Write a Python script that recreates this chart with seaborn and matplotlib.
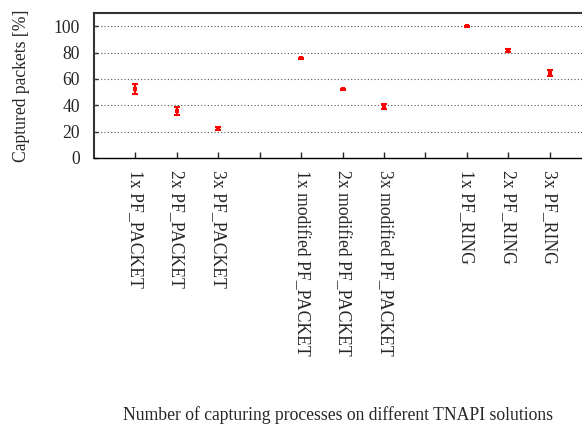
import matplotlib
matplotlib.use("Agg")
import matplotlib.pyplot as plt
import seaborn as sns
import numpy as np
import pandas as pd

labels = ["1x PF_PACKET", "2x PF_PACKET", "3x PF_PACKET",
          "1x modified PF_PACKET", "2x modified PF_PACKET", "3x modified PF_PACKET",
          "1x PF_RING", "2x PF_RING", "3x PF_RING"]
positions = [1, 2, 3, 5, 6, 7, 9, 10, 11]
means = [52.0, 36.0, 22.5, 75.5, 52.0, 39.0, 100.0, 81.5, 64.5]
lows = [48.5, 33.0, 21.5, 74.8, 51.5, 37.0, 99.5, 80.5, 62.5]
highs = [56.5, 39.0, 23.5, 76.2, 52.5, 41.0, 100.5, 82.5, 66.5]

df = pd.DataFrame({"pos": positions, "label": labels, "mean": means,
                   "low": lows, "high": highs})

sns.set_style("white")
plt.rcParams["font.family"] = ["Liberation Serif", "DejaVu Serif"]

FS = 12.7
fig = plt.figure(figsize=(5.82, 4.26), dpi=100)
ax = fig.add_axes([94/582, 1-158/426, (591-94)/582, (158-13)/426])

ax.errorbar(df["pos"], df["mean"],
            yerr=[df["mean"] - df["low"], df["high"] - df["mean"]],
            fmt="none", ecolor="#ff0000", elinewidth=1.5, capsize=2.5, capthick=1.5, zorder=3)
sns.scatterplot(data=df, x="pos", y="mean", ax=ax, color="#ff0000", marker="s",
                s=9, linewidth=0, zorder=4)

ax.set_xlim(0, 12)
ax.set_ylim(0, 110)
ax.set_yticks([0, 20, 40, 60, 80, 100])
ax.set_xticks(list(range(1, 12)))
tick_labels = []
for t in range(1, 12):
    tick_labels.append(labels[positions.index(t)] if t in positions else "")
ax.set_xticklabels(tick_labels, rotation=-90, fontsize=FS, va="top", ha="center")
ax.tick_params(axis="y", labelsize=FS, direction="in", length=3, width=1, left=True, pad=10)
ax.tick_params(axis="x", direction="in", length=4, width=1, bottom=True, pad=9)

for y in [20, 40, 60, 80, 100]:
    ax.axhline(y, color="#555555", linestyle=(0, (1, 2)), linewidth=0.8, zorder=1)

for side in ["top", "left", "right"]:
    ax.spines[side].set_color("#333333")
    ax.spines[side].set_linewidth(1.5)
ax.spines["bottom"].set_color("black")
ax.spines["bottom"].set_linewidth(1.0)

ax.set_xlabel("")
ax.set_ylabel("Captured packets [%]", fontsize=FS)
ax.yaxis.set_label_coords(-(94-30)/497, 0.5)
fig.text(338/582, 1-415/426, "Number of capturing processes on different TNAPI solutions",
         ha="center", va="center", fontsize=FS)

fig.savefig("out.png", dpi=100)
